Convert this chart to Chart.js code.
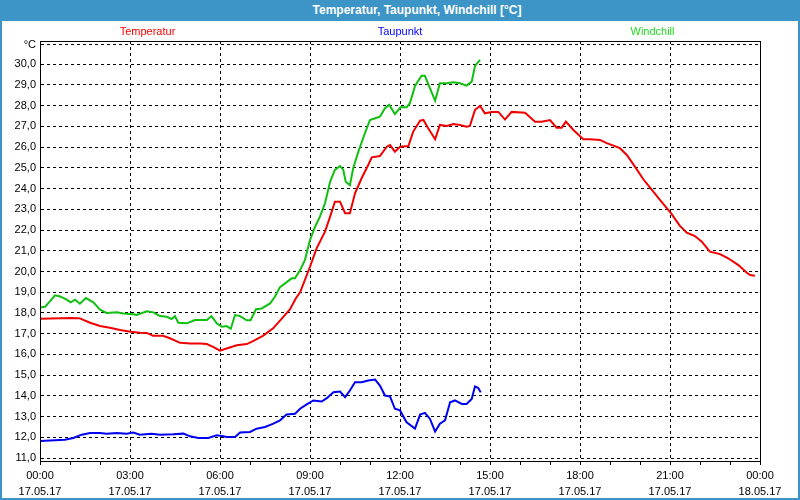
<!DOCTYPE html>
<html>
<head>
<meta charset="utf-8">
<script src="https://cdn.jsdelivr.net/npm/chart.js@4/dist/chart.umd.min.js"></script>
<style>
    html, body { margin: 0; padding: 0; background: #fff; }
    #wrap { position: relative; width: 800px; height: 500px; overflow: hidden; }
    #chart { position: absolute; left: 0; top: 0; }
    #titlebar {
        position: absolute; left: 0; top: 0; width: 800px; height: 21px;
        box-sizing: border-box; padding-left: 34px;
        background: #3d94c6; color: #fff; text-align: center;
        font: bold 12px "Liberation Sans", Arial, sans-serif; line-height: 21px;
    }
    #frame {
        position: absolute; left: 0; top: 0; width: 800px; height: 500px;
        box-sizing: border-box; border: 2px solid #3d94c6; pointer-events: none;
    }
</style>
</head>
<body>
<div id="wrap">
    <canvas id="chart" width="800" height="500"></canvas>
    <div id="titlebar">Temperatur, Taupunkt, Windchill [°C]</div>
    <div id="frame"></div>
</div>
<script>
// series, hours after 17.05.17 00:00
const seriesNames = ["Temperatur", "Taupunkt", "Windchill"];

const tempHours = [0, 1.06, 1.33, 1.67, 2, 2.33, 2.67, 3.02, 3.33, 3.56, 3.77, 4.1, 4.33, 4.67, 5, 5.33, 5.56, 5.77, 6, 6.22,
    6.56, 6.89, 7.1, 7.43, 7.77, 8, 8.33, 8.53, 8.67, 9, 9.22, 9.5, 9.67, 9.83, 10, 10.17, 10.33, 10.5, 10.72, 10.94,
    11.06, 11.33, 11.56, 11.67, 11.83, 12, 12.28, 12.44, 12.67, 12.78, 12.94, 13.17, 13.33, 13.56, 13.78, 14, 14.22, 14.33, 14.5, 14.67,
    14.83, 15.06, 15.28, 15.5, 15.72, 16.17, 16.5, 16.72, 17, 17.22, 17.39, 17.53, 17.78, 18.11, 18.33, 18.67, 18.89, 19.33, 19.56, 19.83,
    20.11, 20.33, 20.67, 21.02, 21.33, 21.56, 21.83, 22.06, 22.33, 22.67, 22.94, 23.28, 23.56, 23.67, 23.83];
const tempValues = [17.72, 17.76, 17.74, 17.53, 17.37, 17.29, 17.18, 17.1, 17.05, 17.04, 16.9, 16.9, 16.78, 16.56, 16.53, 16.53, 16.5, 16.37, 16.18, 16.29,
    16.44, 16.5, 16.64, 16.9, 17.26, 17.63, 18.17, 18.71, 19.0, 20.23, 21.12, 21.92, 22.65, 23.37, 23.37, 22.81, 22.81, 23.77, 24.5, 25.14,
    25.51, 25.57, 26.02, 26.1, 25.78, 26.02, 26.05, 26.75, 27.28, 27.31, 26.91, 26.38, 27.07, 27.02, 27.12, 27.07, 26.99, 27.02, 27.8, 27.99,
    27.63, 27.7, 27.7, 27.33, 27.7, 27.66, 27.23, 27.23, 27.31, 26.94, 26.94, 27.23, 26.83, 26.38, 26.38, 26.35, 26.19, 25.95, 25.62, 25.06,
    24.45, 24.06, 23.45, 22.84, 22.2, 21.87, 21.71, 21.44, 20.96, 20.84, 20.64, 20.31, 19.94, 19.83, 19.8];

const dewHours = [0, 0.5, 0.83, 1.11, 1.39, 1.67, 2, 2.22, 2.56, 2.89, 3.11, 3.33, 3.72, 4, 4.44, 4.78, 5, 5.28, 5.61, 5.89,
    6.06, 6.22, 6.5, 6.67, 7, 7.22, 7.5, 7.78, 8, 8.22, 8.5, 8.67, 8.89, 9.11, 9.39, 9.56, 9.78, 10, 10.17, 10.33,
    10.5, 10.72, 10.94, 11.17, 11.33, 11.5, 11.67, 11.83, 12, 12.22, 12.5, 12.67, 12.83, 13, 13.17, 13.33, 13.5, 13.67, 13.83, 14.06,
    14.22, 14.39, 14.5, 14.61, 14.69];
const dewValues = [11.83, 11.86, 11.89, 11.97, 12.13, 12.21, 12.21, 12.18, 12.21, 12.18, 12.23, 12.13, 12.18, 12.13, 12.15, 12.18, 12.05, 11.97, 11.97, 12.1,
    12.07, 12.02, 12.02, 12.24, 12.26, 12.42, 12.5, 12.66, 12.82, 13.1, 13.14, 13.38, 13.59, 13.78, 13.73, 13.89, 14.18, 14.21, 13.94, 14.26,
    14.66, 14.66, 14.74, 14.79, 14.5, 14.02, 13.97, 13.38, 13.3, 12.73, 12.42, 13.1, 13.18, 12.89, 12.28, 12.66, 12.82, 13.69, 13.78, 13.61,
    13.61, 13.85, 14.46, 14.38, 14.17];

const chillHours = [0, 0.17, 0.33, 0.5, 0.67, 0.89, 1.02, 1.17, 1.33, 1.53, 1.78, 2, 2.22, 2.56, 2.78, 3.11, 3.22, 3.56, 3.78, 4,
    4.22, 4.39, 4.5, 4.61, 4.89, 5.17, 5.56, 5.72, 5.89, 6.06, 6.22, 6.36, 6.5, 6.67, 6.89, 7.02, 7.2, 7.39, 7.67, 7.83,
    8, 8.17, 8.39, 8.5, 8.67, 8.83, 9, 9.17, 9.33, 9.5, 9.67, 9.83, 10, 10.11, 10.19, 10.33, 10.44, 10.61, 10.83, 11,
    11.17, 11.33, 11.5, 11.64, 11.83, 12.02, 12.22, 12.33, 12.5, 12.72, 12.83, 13, 13.17, 13.33, 13.56, 13.78, 14, 14.22, 14.39, 14.5,
    14.67];
const chillValues = [18.26, 18.3, 18.56, 18.85, 18.8, 18.64, 18.51, 18.64, 18.45, 18.72, 18.51, 18.16, 18.0, 18.03, 17.97, 17.94, 17.9, 18.08, 18.03, 17.85,
    17.82, 17.71, 17.85, 17.53, 17.5, 17.66, 17.66, 17.85, 17.5, 17.34, 17.37, 17.24, 17.9, 17.85, 17.65, 17.65, 18.18, 18.22, 18.46, 18.78,
    19.25, 19.43, 19.67, 19.67, 20.07, 20.55, 21.52, 22.16, 22.65, 23.29, 24.33, 24.9, 25.09, 24.9, 24.33, 24.17, 24.98, 25.78, 26.67, 27.31,
    27.39, 27.47, 27.88, 28.04, 27.6, 27.92, 27.92, 28.12, 28.95, 29.44, 29.44, 28.84, 28.24, 29.08, 29.08, 29.13, 29.08, 28.97, 29.16, 29.92,
    30.21];

// axis labels
const timeLabels = ["00:00", "03:00", "06:00", "09:00", "12:00", "15:00", "18:00", "21:00", "00:00"];
const dateLabels = ["17.05.17", "17.05.17", "17.05.17", "17.05.17", "17.05.17", "17.05.17", "17.05.17", "17.05.17", "18.05.17"];
const yTickValues = [11, 12, 13, 14, 15, 16, 17, 18, 19, 20, 21, 22, 23, 24, 25, 26, 27, 28, 29, 30];
const unitLabel = "°C";

const FONT = "'Liberation Sans', Arial, sans-serif";
const lineColors = ["#f00000", "#0000f0", "#10c010"];
const legendColors = ["#ff0000", "#0000ff", "#22dd22"];
const UNIT_TICK = 30.95;

function toPoints(hours, values) {
    return hours.map((h, i) => ({ x: h, y: values[i] }));
}

const legendText = {
    id: "legendText",
    afterDraw(chart) {
        const ctx = chart.ctx;
        const mid = (chart.chartArea.left + chart.chartArea.right) / 2;
        ctx.save();
        ctx.font = "11px " + FONT;
        ctx.textAlign = "center";
        ctx.textBaseline = "middle";
        chart.data.datasets.forEach((ds, i) => {
            ctx.fillStyle = legendColors[i];
            ctx.fillText(ds.label, mid + (i - 1) * 252.5, 32);
        });
        ctx.restore();
    }
};

const plotFrame = {
    id: "plotFrame",
    afterDraw(chart) {
        const a = chart.chartArea;
        const ctx = chart.ctx;
        ctx.save();
        ctx.strokeStyle = "#000";
        ctx.lineWidth = 1;
        ctx.strokeRect(Math.round(a.left) + 0.5, Math.round(a.top) + 0.5,
            Math.round(a.right - a.left), Math.round(a.bottom - a.top));
        ctx.restore();
    }
};

document.addEventListener("DOMContentLoaded", () => {
    const canvas = document.getElementById("chart");

    new Chart(canvas, {
        type: "line",
        data: {
            datasets: [
                { label: seriesNames[0], data: toPoints(tempHours, tempValues), borderColor: lineColors[0] },
                { label: seriesNames[1], data: toPoints(dewHours, dewValues), borderColor: lineColors[1] },
                { label: seriesNames[2], data: toPoints(chillHours, chillValues), borderColor: lineColors[2] }
            ]
        },
        options: {
            responsive: false,
            animation: false,
            devicePixelRatio: 1,
            layout: { padding: { top: 41, right: 40, left: 0, bottom: 0 } },
            elements: {
                line: { borderWidth: 2, tension: 0, fill: false },
                point: { radius: 0, hoverRadius: 0 }
            },
            plugins: {
                legend: { display: false },
                title: { display: false },
                tooltip: { enabled: false }
            },
            scales: {
                x: {
                    type: "linear",
                    min: 0,
                    max: 24,
                    afterBuildTicks: (scale) => {
                        const t = [];
                        for (let h = 0; h <= 24; h++) t.push({ value: h });
                        scale.ticks = t;
                    },
                    afterFit: (scale) => { scale.height = 39; },
                    grid: {
                        color: (c) => (c.tick && c.tick.value % 3 === 0) ? "#000" : "rgba(0,0,0,0)",
                        tickColor: "#000",
                        tickLength: 4,
                        lineWidth: 1
                    },
                    border: { color: "#000", dash: [3, 3] },
                    ticks: {
                        autoSkip: false,
                        maxRotation: 0,
                        color: "#000",
                        padding: 3,
                        font: { family: FONT, size: 11, lineHeight: 1.45 },
                        callback: (v) => v % 3 === 0 ? [timeLabels[v / 3], dateLabels[v / 3]] : ""
                    }
                },
                y: {
                    min: 10.86,
                    max: 31.12,
                    afterBuildTicks: (scale) => {
                        scale.ticks = yTickValues.map(v => ({ value: v })).concat([{ value: UNIT_TICK }]);
                    },
                    afterFit: (scale) => { scale.width = 40; },
                    grid: { color: "#000", lineWidth: 1, drawTicks: false },
                    border: { color: "#000", dash: [3, 3] },
                    ticks: {
                        color: "#000",
                        padding: 4,
                        font: { family: FONT, size: 11 },
                        callback: (v) => v === UNIT_TICK ? unitLabel : v.toFixed(1).replace(".", ",")
                    }
                }
            }
        },
        plugins: [legendText, plotFrame]
    });
});
</script>
</body>
</html>
